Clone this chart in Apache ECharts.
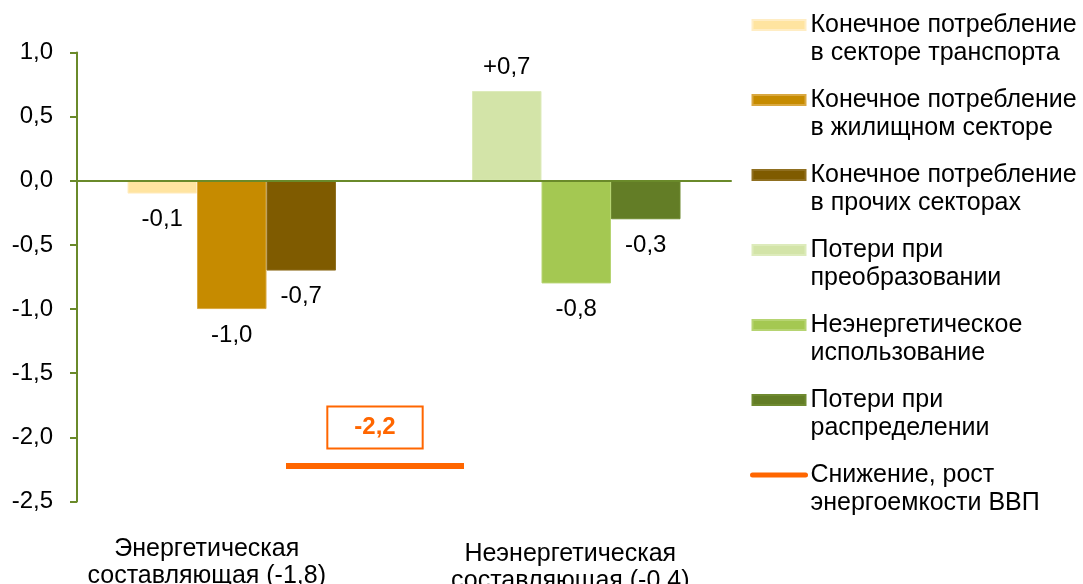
<!DOCTYPE html>
<html>
<head>
<meta charset="utf-8">
<script src="https://cdn.jsdelivr.net/npm/echarts@6/dist/echarts.min.js"></script>
<style>
  html, body { margin: 0; padding: 0; background: #fff; }
  #chart { width: 1083px; height: 584px; }
</style>
</head>
<body>
<div id="chart"></div>
<script>
// data
const categories = ['Энергетическая\nсоставляющая (-1,8)', 'Неэнергетическая\nсоставляющая (-0,4)'];

const transport = [-0.1, null];
const residential = [-1.0, null];
const otherSectors = [-0.7, null];
const conversionLosses = [null, 0.7];
const nonEnergyUse = [null, -0.8];
const distributionLosses = [null, -0.3];

const intensityChange = -2.22;

const yMin = -2.5;
const yMax = 1.0;
const yStep = 0.5;

const names = {
  transport: 'Конечное потребление\nв секторе транспорта',
  residential: 'Конечное потребление\nв жилищном секторе',
  other: 'Конечное потребление\nв прочих секторах',
  conversion: 'Потери при\nпреобразовании',
  nonEnergy: 'Неэнергетическое\nиспользование',
  distribution: 'Потери при\nраспределении',
  intensity: 'Снижение, рост\nэнергоемкости ВВП',
};

const FONT = '"Liberation Sans", Arial, sans-serif';
const AXIS = '#6A8A2A';
const ORANGE = '#FF6600';

const fmt = (v) => (v > 0 ? '+' : '') + v.toFixed(1).replace('.', ',');

const chart = echarts.init(document.getElementById('chart'));

const barSeries = (name, data, stack, color, border) => {
  const v = data.find((d) => d != null);
  return {
    name,
    type: 'bar',
    xAxisIndex: 1,
    yAxisIndex: 1,
    stack,
    data,
    barWidth: 69.5,
    barGap: '0%',
    itemStyle: { color, borderColor: border, borderWidth: 1 },
    label: {
      show: true,
      position: v > 0 ? 'top' : 'bottom',
      distance: v > 0 ? 12 : 14,
      fontSize: 24,
      fontFamily: FONT,
      color: '#000',
      formatter: (p) => fmt(p.value),
    },
    emphasis: { disabled: true },
  };
};

const labelRich = (lineHeight, padRight) => ({
  fontSize: 25,
  fontFamily: FONT,
  color: '#000',
  lineHeight,
  padding: [0, padRight, 0, 0],
});

const option = {
  animation: false,
  backgroundColor: '#fff',
  textStyle: { fontFamily: FONT },
  grid: [
    { left: 77, right: 352, top: 52.5, bottom: 82.5, outerBoundsMode: 'none', containLabel: false },
    { left: 59.5, right: 334.5, top: 52.5, bottom: 82.5, outerBoundsMode: 'none', containLabel: false },
  ],
  xAxis: [
    {
      gridIndex: 0,
      type: 'category',
      data: ['', ''],
      z: 5,
      axisLine: { show: true, onZero: true, lineStyle: { color: AXIS, width: 2 } },
      axisTick: { show: false },
      axisLabel: { show: false },
      splitLine: { show: false },
    },
    {
      gridIndex: 1,
      type: 'category',
      data: categories,
      axisLine: { show: false, onZero: false },
      axisTick: { show: false },
      splitLine: { show: false },
      axisLabel: {
        margin: 34,
        interval: 0,
        formatter: (value, index) =>
          value
            .split('\n')
            .map((line, k) => `{${index === 0 ? 'a' : k === 0 ? 'b1' : 'b2'}|${line}}`)
            .join('\n'),
        rich: {
          a: labelRich(27, 50),
          b1: labelRich(37, 12),
          b2: labelRich(17, 12),
        },
      },
    },
  ],
  yAxis: [
    {
      gridIndex: 0,
      type: 'value',
      min: yMin,
      max: yMax,
      interval: yStep,
      axisLine: { show: true, lineStyle: { color: AXIS, width: 2 } },
      axisTick: { show: true, inside: false, length: 7, lineStyle: { color: AXIS, width: 2 } },
      axisLabel: {
        fontSize: 24,
        fontFamily: FONT,
        color: '#000',
        margin: 24,
        formatter: (v) => v.toFixed(1).replace('.', ','),
      },
      splitLine: { show: false },
    },
    {
      gridIndex: 1,
      type: 'value',
      min: yMin,
      max: yMax,
      interval: yStep,
      show: false,
    },
  ],
  legend: {
    orient: 'vertical',
    left: 750,
    top: -17,
    padding: 0,
    itemGap: -9,
    itemWidth: 53,
    itemHeight: 10,
    selectedMode: false,
    formatter: (name) => ' \n' + name,
    textStyle: { fontSize: 25, lineHeight: 28, color: '#000', fontFamily: FONT },
    data: [
      { name: names.transport, icon: 'rect' },
      { name: names.residential, icon: 'rect' },
      { name: names.other, icon: 'rect' },
      { name: names.conversion, icon: 'rect' },
      { name: names.nonEnergy, icon: 'rect' },
      { name: names.distribution, icon: 'rect' },
      {
        name: names.intensity,
        itemStyle: { opacity: 0 },
        lineStyle: { width: 5, cap: 'round', color: ORANGE },
      },
    ],
  },
  series: [
    barSeries(names.transport, transport, 'a', '#FFE4A0', '#FFEDC4'),
    barSeries(names.residential, residential, 'b', '#C68B00', '#D9A840'),
    barSeries(names.other, otherSectors, 'c', '#7F5B00', '#8F6F20'),
    barSeries(names.conversion, conversionLosses, 'a', '#D3E4A8', '#DDEBBB'),
    barSeries(names.nonEnergy, nonEnergyUse, 'b', '#A4C852', '#B6D472'),
    barSeries(names.distribution, distributionLosses, 'c', '#637D26', '#6F8A30'),
    {
      name: names.intensity,
      type: 'line',
      xAxisIndex: 1,
      yAxisIndex: 1,
      data: [],
      symbol: 'none',
      itemStyle: { color: ORANGE },
      lineStyle: { color: ORANGE, width: 5 },
      markLine: {
        silent: true,
        symbol: ['none', 'none'],
        lineStyle: { color: ORANGE, width: 6, type: 'solid' },
        label: {
          show: true,
          position: 'middle',
          distance: 18,
          formatter: () => fmt(intensityChange),
          color: ORANGE,
          fontSize: 24,
          fontWeight: 'bold',
          fontFamily: FONT,
          backgroundColor: '#fff',
          borderColor: ORANGE,
          borderWidth: 2,
          padding: [8, 26, 8, 26],
        },
        emphasis: { disabled: true },
        data: [[{ x: 286, yAxis: intensityChange }, { x: 464, yAxis: intensityChange }]],
      },
    },
  ],
};

chart.setOption(option);
</script>
</body>
</html>
